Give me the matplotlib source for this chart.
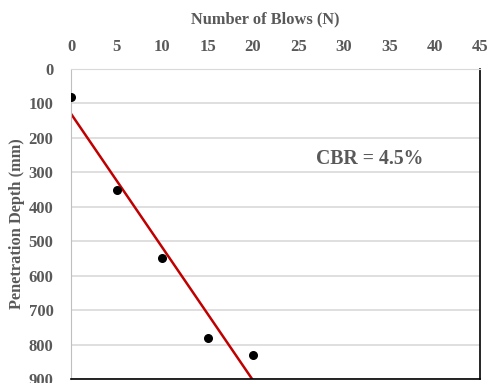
import numpy as np
import matplotlib
matplotlib.use("Agg")
import matplotlib.pyplot as plt

blows = [0, 5, 10, 15, 20]
depth = [80, 350, 550, 780, 830]
x_ticks = [0, 5, 10, 15, 20, 25, 30, 35, 40, 45]
y_ticks = [0, 100, 200, 300, 400, 500, 600, 700, 800, 900]
annot = "CBR = 4.5%"

gray = "#595959"
plt.rcParams['font.family'] = ['Liberation Serif', 'DejaVu Serif']
plt.rcParams['font.weight'] = 'bold'

fig = plt.figure(figsize=(4.88, 3.83), dpi=100)
ax = fig.add_axes([0.1465, 0.0104, 0.8371, 0.8094])

ax.scatter(blows, depth, s=30, color='black', zorder=3)
slope, intercept = np.polyfit(blows, depth, 1)
x_end = (900 - intercept) / slope
xl = np.array([0, x_end])
ax.plot(xl, intercept + slope * xl, color='#C00000', lw=1.8, zorder=2)

ax.set_xlim(0, 45)
ax.set_ylim(900, 0)
ax.set_xticks(x_ticks)
ax.set_yticks(y_ticks)
ax.xaxis.tick_top()
ax.xaxis.set_label_position('top')
ax.tick_params(axis='both', length=0, labelsize=12, colors=gray)
ax.tick_params(axis='x', pad=10)
ax.tick_params(axis='y', pad=13)
for lab in ax.get_xticklabels() + ax.get_yticklabels():
    lab.set_fontweight('bold')
ax.set_xlabel("Number of Blows (N)", fontsize=11.8, fontweight='bold', color=gray)
ax.set_ylabel("Penetration Depth (mm)", fontsize=11.8, fontweight='bold', color=gray)
ax.xaxis.set_label_coords(0.474, 1.148)
ax.yaxis.set_label_coords(-0.113, 0.5)

ax.yaxis.grid(True, color='#d9d9d9', lw=1.2)
ax.set_axisbelow(True)
ax.spines['left'].set_color('#bfbfbf')
ax.spines['top'].set_color('#d9d9d9')
ax.spines['right'].set_color('black')
ax.spines['bottom'].set_color('black')
ax.spines['right'].set_linewidth(1.2)
ax.spines['bottom'].set_linewidth(1.2)

ax.text(32.9, 262, annot, fontsize=14.2, fontweight='bold', color=gray, ha='center', va='center')

fig.savefig("out.png", dpi=100)
